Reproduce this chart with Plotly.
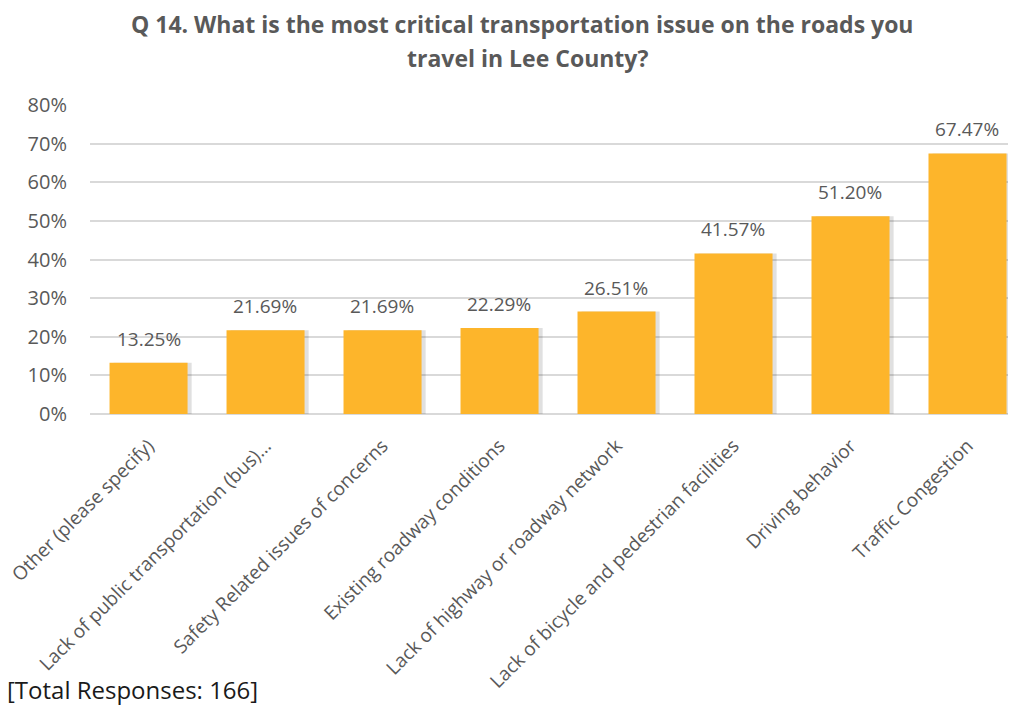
import plotly.graph_objects as go

categories = [
    "Other (please specify)",
    "Lack of public transportation (bus)…",
    "Safety Related issues of concerns",
    "Existing roadway conditions",
    "Lack of highway or roadway network",
    "Lack of bicycle and pedestrian facilities",
    "Driving behavior",
    "Traffic Congestion",
]
values = [13.25, 21.69, 21.69, 22.29, 26.51, 41.57, 51.20, 67.47]
y_ticks = [0, 10, 20, 30, 40, 50, 60, 70, 80]
y_tick_labels = ["0%", "10%", "20%", "30%", "40%", "50%", "60%", "70%", "80%"]
title_line1 = "Q 14. What is the most critical transportation issue on the roads you"
title_line2 = "travel in Lee County?"
footer_text = "[Total Responses: 166]"

FONT = "'Open Sans', sans-serif"
GREY = "#595959"
BAR = "#FDB52B"

x_idx = list(range(len(categories)))

fig = go.Figure()
# soft shadow behind bars
fig.add_trace(go.Bar(
    x=x_idx, y=values, width=0.667, offset=-0.333 + 0.035,
    marker=dict(color="rgba(0,0,0,0.12)", line=dict(width=0)),
    hoverinfo="skip", showlegend=False,
))
fig.add_trace(go.Bar(
    x=x_idx, y=values, width=0.667, offset=-0.333,
    marker=dict(color=BAR, line=dict(width=0)),
    showlegend=False,
))

for i, v in enumerate(values):
    fig.add_annotation(
        x=i, y=v, text=f"{v:.2f}%", showarrow=False,
        yanchor="bottom", yshift=9,
        font=dict(family=FONT, size=19, color=GREY),
    )

title_font = dict(family=FONT, size=23, color=GREY, weight="bold")
fig.add_annotation(xref="paper", yref="paper", x=0.4665, y=1.2621,
                   xanchor="center", yanchor="middle", showarrow=False,
                   text=title_line1, font=title_font)
fig.add_annotation(xref="paper", yref="paper", x=0.473, y=1.152,
                   xanchor="center", yanchor="middle", showarrow=False,
                   text=title_line2, font=title_font)

fig.add_annotation(
    xref="paper", yref="paper", x=-0.0918, y=-0.893,
    xanchor="left", yanchor="middle",
    text=footer_text, showarrow=False,
    font=dict(family=FONT, size=24, color="#1a1a1a"),
)

fig.update_layout(
    width=1008, height=698,
    margin=dict(l=82, r=0, t=97, b=292, autoexpand=False),
    paper_bgcolor="white", plot_bgcolor="white",
    barmode="overlay",
    font=dict(family=FONT, color=GREY),
)
fig.update_xaxes(
    tickmode="array", tickvals=x_idx, ticktext=categories,
    range=[-0.5, 7.415], tickangle=-45, automargin=False,
    tickfont=dict(family=FONT, size=19, color=GREY),
    showgrid=False, showline=False, zeroline=False, ticks="",
    ticklabelstandoff=16, ticklabeloverflow="allow",
)
fig.update_yaxes(
    range=[0, 80], tickmode="array", tickvals=y_ticks, ticktext=y_tick_labels,
    automargin=False,
    tickfont=dict(family=FONT, size=20, color=GREY),
    showgrid=True, gridcolor="#D9D9D9", gridwidth=1.5,
    zeroline=True, zerolinecolor="#D9D9D9", zerolinewidth=1.5,
    ticks="", ticklabelstandoff=22,
)

fig.write_html("out.html")
